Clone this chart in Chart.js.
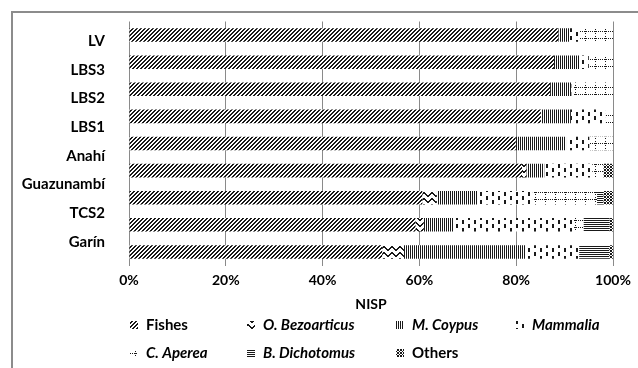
<!DOCTYPE html>
<html lang="es">
<head>
<meta charset="UTF-8">
<title>NISP por sitio</title>
<script src="https://cdn.jsdelivr.net/npm/chart.js"></script>
<style>
  body { margin: 0; background: #fff; }
  #wrap { width: 638px; height: 368px; }
</style>
</head>
<body>
<div id="wrap"><canvas id="myChart" width="638" height="368"></canvas></div>
<script>
// etiquetas del eje (8) y filas de barras (9 en la figura original)
const siteLabels = ['LV', 'LBS3', 'LBS2', 'LBS1', 'Anahí', 'Guazunambí', 'TCS2', 'Garín'];
const barRows = ['LV', 'LBS3', 'LBS2', 'LBS1', 'Anahí', 'Guazunambí', 'TCS2', 'Garín', '-'];
const xTicks = [0, 20, 40, 60, 80, 100];

const seriesNames = ['Fishes', 'O. Bezoarticus', 'M. Coypus', 'Mammalia', 'C. Aperea', 'B. Dichotomus', 'Others'];
const italicNames = [false, true, true, true, true, true, false];

// % NISP por fila
const fishes      = [88.7, 87.8, 87.0, 85.1, 79.9, 81.2, 60.6, 59.2, 52.3];
const oBezoartic  = [0, 0, 0, 0, 0, 0.9, 3.0, 1.7, 4.5];
const mCoypus     = [2.3, 5.2, 4.4, 6.2, 10.4, 3.7, 8.3, 6.1, 25.2];
const mammalia    = [2.0, 2.0, 0.5, 7.2, 4.8, 9.9, 11.5, 24.9, 11.0];
const cAperea     = [7.0, 5.0, 8.1, 1.5, 4.9, 2.3, 13.3, 2.0, 0];
const bDichotomus = [0, 0, 0, 0, 0, 0, 1.3, 5.4, 6.2];
const others      = [0, 0, 0, 0, 0, 2.0, 2.0, 0.7, 0.8];
const seriesValues = [fishes, oBezoartic, mCoypus, mammalia, cAperea, bDichotomus, others];

// tramas en blanco y negro
function tile(w, h, on) {
    const c = document.createElement('canvas');
    c.width = w; c.height = h;
    const g = c.getContext('2d');
    const img = g.createImageData(w, h);
    for (let y = 0; y < h; y++) {
        for (let x = 0; x < w; x++) {
            const i = (y * w + x) * 4;
            const k = on(x, y) ? 25 : 255;
            img.data[i] = img.data[i + 1] = img.data[i + 2] = k;
            img.data[i + 3] = 255;
        }
    }
    g.putImageData(img, 0, 0);
    return g.createPattern(c, 'repeat');
}
const zig = [0, 1, 2, 3, 3, 2, 1, 0];
const patterns = [
    tile(4, 4, (x, y) => (x + y) % 4 < 2),
    tile(8, 6, (x, y) => y === zig[x] || y === zig[x] + 1),
    tile(2, 1, (x) => x === 0),
    tile(12, 8, (x, y) => (x < 2 && y < 4) || (x >= 6 && x < 8 && y >= 4 && y < 8)),
    tile(10, 7, (x, y) => (y === 3 && x % 2 === 0) || (x === 5 && y % 2 === 1)),
    tile(1, 2, (x, y) => y === 0),
    tile(3, 3, (x, y) => (x + y) % 3 === 0 || (x - y + 3) % 3 === 0)
];

const legendPos = [[146, 325], [263, 325], [412, 325], [532, 325], [146, 353], [263, 353], [412, 353]];

const framePlugin = {
    id: 'frame',
    beforeDraw(chart) {
        const ctx = chart.ctx;
        ctx.save();
        ctx.fillStyle = '#fff';
        ctx.fillRect(0, 0, chart.width, chart.height);
        ctx.strokeStyle = '#8c8c8c';
        ctx.lineWidth = 2;
        ctx.beginPath();
        ctx.moveTo(12, chart.height);
        ctx.lineTo(12, 12);
        ctx.lineTo(chart.width, 12);
        ctx.stroke();
        ctx.restore();
    }
};

const legendPlugin = {
    id: 'patternLegend',
    afterDraw(chart) {
        const ctx = chart.ctx;
        ctx.save();
        ctx.textBaseline = 'middle';
        chart.data.datasets.forEach((ds, i) => {
            const [x, y] = legendPos[i];
            ctx.fillStyle = ds.backgroundColor;
            ctx.fillRect(x - 16, y - 4, 8, 8);
            ctx.fillStyle = '#000';
            ctx.font = (italicNames[i] ? 'italic ' : '') + 'bold 15px Lato';
            ctx.fillText(ds.label, x, y);
        });
        ctx.restore();
    }
};

const tickFont = { family: 'Lato', size: 14, weight: 'bold' };

new Chart(document.getElementById('myChart'), {
    type: 'bar',
    data: {
        labels: barRows,
        datasets: seriesNames.map((name, i) => ({
            label: name,
            data: seriesValues[i],
            backgroundColor: patterns[i],
            borderWidth: 0,
            barPercentage: 0.5,
            categoryPercentage: 1
        }))
    },
    options: {
        indexAxis: 'y',
        responsive: false,
        animation: false,
        devicePixelRatio: 1,
        layout: { padding: { top: 21.5, right: 25, bottom: 52.5, left: 0 } },
        plugins: { legend: { display: false }, tooltip: { enabled: false } },
        scales: {
            x: {
                stacked: true,
                min: 0,
                max: 100,
                afterBuildTicks: s => { s.ticks = xTicks.map(v => ({ value: v })); },
                ticks: { callback: v => v + '%', padding: 7, font: tickFont, color: '#000' },
                grid: { color: '#8a8a8a', drawTicks: false },
                border: { display: false },
                title: { display: true, text: 'NISP', font: tickFont, color: '#000', padding: { top: 4, bottom: 3 } },
                afterFit: s => { s.height = 50; }
            },
            y: { stacked: true, display: false },
            y2: {
                type: 'linear',
                position: 'left',
                reverse: true,
                offset: false,
                bounds: 'data',
                min: -0.68,
                max: 7.82,
                afterBuildTicks: s => { s.ticks = siteLabels.map((_, i) => ({ value: i })); },
                ticks: {
                    callback: v => siteLabels[v],
                    padding: 16,
                    font: { family: 'Lato', size: 15, weight: 'bold', lineHeight: 0.7 },
                    color: '#000'
                },
                grid: { display: false },
                border: { display: false },
                afterFit: s => { s.width = 129; }
            }
        }
    },
    plugins: [framePlugin, legendPlugin]
});
</script>
</body>
</html>
